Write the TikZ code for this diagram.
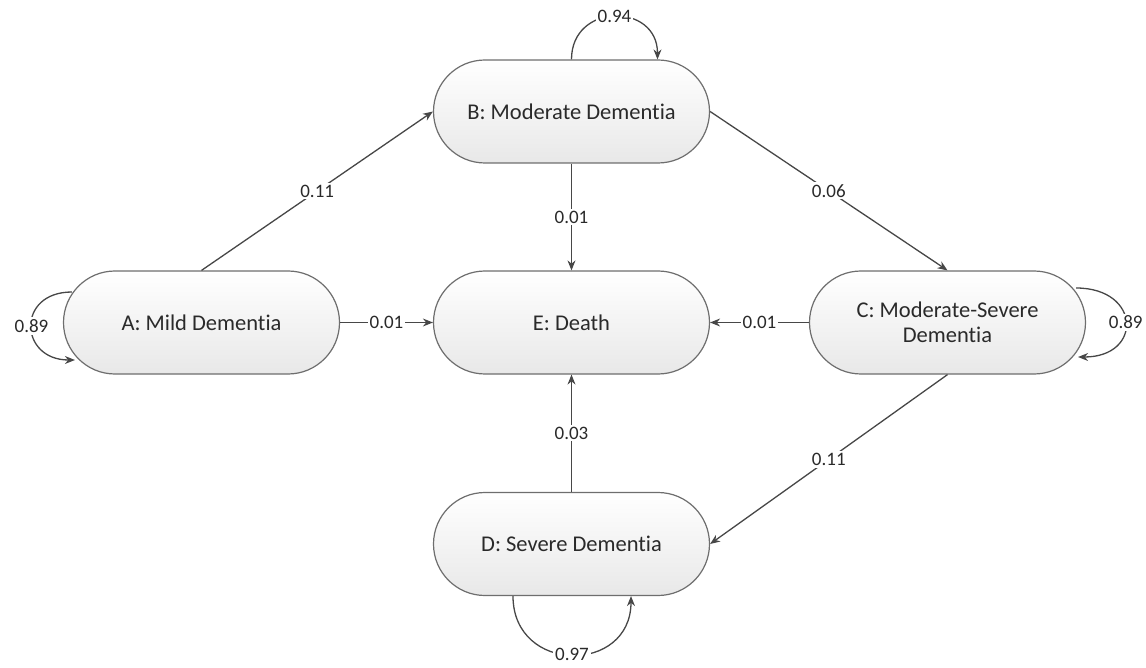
\documentclass[tikz,border=0pt]{standalone}
\usepackage{fontspec}
\setmainfont{Carlito}[Ligatures=NoCommon]
\usetikzlibrary{shapes.misc,arrows.meta,calc}
\definecolor{edgec}{HTML}{474747}
\definecolor{borderc}{HTML}{6E6E6E}
\definecolor{textc}{HTML}{2A2A2A}
\tikzset{
  state/.style={rounded rectangle, draw=borderc, line width=1.2pt,
    top color=white, bottom color=black!9, minimum width=276pt, minimum height=103pt,
    text=textc, font=\fontsize{22.5}{25}\selectfont, align=center, inner sep=0pt},
  edge/.style={draw=edgec, line width=1.3pt, -{Stealth[length=10pt,width=8pt]}},
  lab/.style={fill=white, text=textc, font=\fontsize{19}{21}\selectfont, inner sep=2pt}
}
\begin{document}
\begin{tikzpicture}[x=1pt,y=-1pt]
\useasboundingbox (0,0) rectangle (1146,668);
\node[state] (A) at (201.5,322.5) {A: Mild Dementia};
\node[state] (B) at (571.5,111.5) {B: Moderate Dementia};
\node[state] (E) at (571.5,322.5) {E: Death};
\node[state] (C) at (947.5,322.5) {C: Moderate-Severe\\Dementia};
\node[state] (D) at (571.5,544) {D: Severe Dementia};

\coordinate (Bl2) at ($(B.north)+(86,0)$);
\coordinate (Al1) at ($(A.west)+(9,-30.5)$);
\coordinate (Al2) at ($(A.west)+(12,37.5)$);
\coordinate (Cl1) at ($(C.east)+(-10,-34.5)$);
\coordinate (Cl2) at ($(C.east)+(-8,34.5)$);
\coordinate (Dl1) at ($(D.south)+(-58.5,0)$);
\coordinate (Dl2) at ($(D.south)+(59.5,0)$);

\draw[edge] (A.north) -- node[lab]{0.11} (B.west);
\draw[edge] (A.east) -- node[lab]{0.01} (E.west);
\draw[edge] (B.south) -- node[lab]{0.01} (E.north);
\draw[edge] (B.east) -- node[lab]{0.06} (C.north);
\draw[edge] (C.west) -- node[lab]{0.01} (E.east);
\draw[edge] (C.south) -- node[lab]{0.11} (D.east);
\draw[edge] (D.north) -- node[lab]{0.03} (E.south);

\draw[edge] (B.north) to[out=90,in=90,looseness=1.7] node[lab]{0.94} (Bl2);
\draw[edge] (Al1) to[out=180,in=180,looseness=2.1] node[lab]{0.89} (Al2);
\draw[edge] (Cl1) to[out=0,in=0,looseness=2.4] node[lab]{0.89} (Cl2);
\draw[edge] (Dl1) to[out=-90,in=-90,looseness=1.7] node[lab]{0.97} (Dl2);
\end{tikzpicture}
\end{document}
